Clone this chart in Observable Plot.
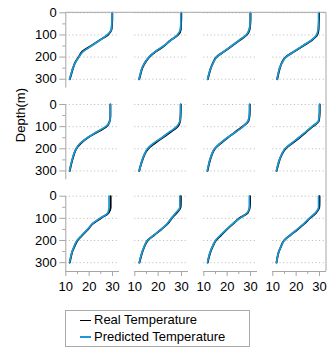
<!DOCTYPE html>
<html>
<head>
<meta charset="utf-8">
<script src="https://cdn.jsdelivr.net/npm/d3@7"></script>
<script src="https://cdn.jsdelivr.net/npm/@observablehq/plot@0.6"></script>
<style>
  html, body { margin: 0; padding: 0; background: #fff; }
  body { width: 328px; height: 347px; overflow: hidden; font-family: "Liberation Sans", Arial, Helvetica, sans-serif; }
  #chart svg { display: block; }
  .legend { margin-left: 65px; margin-top: 10px; width: 183px; height: 34px; border: 1px solid #aaa; padding-top: 1px; box-sizing: content-box; font-size: 13px; color: #000; }
  .legend .row { height: 16.7px; line-height: 16.7px; white-space: nowrap; }
  .legend .sw { display: inline-block; width: 11px; height: 1.6px; margin-left: 14px; margin-right: 3px; vertical-align: middle; }
</style>
</head>
<body>
<div id="chart"></div>
<div class="legend">
  <div class="row"><span class="sw" id="sw0"></span><span id="lg0"></span></div>
  <div class="row"><span class="sw" id="sw1"></span><span id="lg1"></span></div>
</div>
<script>
// ---- data ----
const depths = [0, 25, 50, 75, 100, 125, 150, 175, 200, 225, 250, 275, 300];
const rowKeys = ["r1", "r2", "r3"];
const colKeys = ["c1", "c2", "c3", "c4"];
const seriesNames = ["Real Temperature", "Predicted Temperature"];
const xTicks = [10, 20, 30];
const xMinorTicks = [15, 25];
const yTicks = [0, 100, 200, 300];
const yMinorTicks = [50, 150, 250];
const yLabel = "Depth(m)";

const realR1C1 = [29.9,29.9,29.8,29.6,28.0,24.3,20.7,17.1,15.5,14.0,13.1,12.4,11.7];
const predR1C1 = [29.8,29.8,29.7,29.5,27.7,24.4,20.9,17.4,15.6,14.1,13.0,12.3,11.6];
const realR1C2 = [29.9,29.9,29.8,29.7,28.5,25.2,22.5,19.0,16.2,14.4,13.2,12.5,11.9];
const predR1C2 = [29.7,29.7,29.7,29.5,28.2,25.3,22.3,18.8,16.0,14.3,13.1,12.4,11.8];
const realR1C3 = [30.0,30.0,29.9,29.6,28.4,25.2,22.0,18.7,15.4,14.0,13.0,12.3,11.7];
const predR1C3 = [29.8,29.8,29.8,29.4,28.2,25.0,21.8,18.6,15.5,14.1,13.0,12.2,11.6];
const realR1C4 = [29.8,29.8,29.7,29.6,29.0,26.6,22.9,19.2,15.5,13.9,13.0,12.4,11.9];
const predR1C4 = [29.6,29.6,29.6,29.4,28.7,26.3,22.6,19.0,15.6,14.0,12.9,12.3,11.8];

const realR2C1 = [29.1,29.1,29.1,28.8,27.4,23.4,19.4,16.4,14.5,13.5,12.8,12.2,11.7];
const predR2C1 = [29.0,29.0,29.0,28.9,27.0,23.0,19.2,16.2,14.4,13.4,12.7,12.1,11.6];
const realR2C2 = [29.7,29.7,29.6,29.4,28.3,25.2,21.9,18.6,15.7,14.2,13.3,12.5,11.9];
const predR2C2 = [29.6,29.6,29.6,29.3,27.9,24.7,21.5,18.0,15.4,14.1,13.2,12.5,11.9];
const realR2C3 = [29.7,29.7,29.6,29.1,26.5,23.4,20.2,17.3,14.7,13.5,12.7,12.1,11.6];
const predR2C3 = [29.6,29.6,29.5,28.9,26.8,23.6,20.0,17.0,14.6,13.4,12.6,12.0,11.5];
const realR2C4 = [30.1,30.1,30.0,29.7,27.0,24.2,21.4,18.3,15.4,13.9,12.9,12.2,11.6];
const predR2C4 = [30.0,30.0,29.9,29.5,26.7,24.0,21.0,18.0,15.2,13.8,12.8,12.1,11.6];

const realR3C1 = [29.2,29.2,29.2,28.3,24.9,21.5,19.5,17.2,15.0,13.8,12.8,12.2,11.7];
const predR3C1 = [28.5,28.5,28.5,28.0,24.6,21.3,19.3,17.0,14.8,13.6,12.7,12.1,11.6];
const realR3C2 = [29.7,29.7,29.6,27.9,25.8,24.0,21.3,18.4,15.5,14.2,13.3,12.6,12.0];
const predR3C2 = [29.3,29.3,29.3,27.6,25.6,23.8,21.2,18.3,15.4,14.1,13.2,12.5,11.9];
const realR3C3 = [29.8,29.8,29.7,28.8,25.2,22.5,19.9,17.5,15.2,13.9,12.9,12.2,11.7];
const predR3C3 = [29.5,29.5,29.5,28.6,25.4,22.3,19.7,17.2,15.0,13.8,12.8,12.1,11.6];
const realR3C4 = [30.0,30.0,29.9,28.5,25.8,23.4,20.6,17.6,14.8,13.6,12.6,12.0,11.6];
const predR3C4 = [29.6,29.6,29.6,28.3,25.6,23.2,20.4,17.5,14.9,13.6,12.6,12.0,11.6];

const realByPanel = [
  [realR1C1, realR1C2, realR1C3, realR1C4],
  [realR2C1, realR2C2, realR2C3, realR2C4],
  [realR3C1, realR3C2, realR3C3, realR3C4]
];
const predByPanel = [
  [predR1C1, predR1C2, predR1C3, predR1C4],
  [predR2C1, predR2C2, predR2C3, predR2C4],
  [predR3C1, predR3C2, predR3C3, predR3C4]
];

// ---- style / layout ----
const colors = ["#000000", "#1b98d5"];
const axisGray = "#a6a6a6";
const W = 328, H = 300;
const mL = 65.3, mR = 2, mT = 12.3, mB = 29;

function toRows(byPanel) {
  const out = [];
  byPanel.forEach((row, ri) => row.forEach((vals, ci) => vals.forEach((t, i) => {
    out.push({row: rowKeys[ri], col: colKeys[ci], depth: depths[i], temp: t, key: rowKeys[ri] + colKeys[ci]});
  })));
  return out;
}
const realRows = toRows(realByPanel);
const predRows = toRows(predByPanel);

const chart = Plot.plot({
  width: W, height: H,
  marginLeft: mL, marginRight: mR, marginTop: mT, marginBottom: mB,
  style: {fontFamily: "'Liberation Sans', Arial, Helvetica, sans-serif", fontSize: "13px", background: "#fff", color: "#000"},
  fx: {domain: colKeys, paddingInner: 0.2217, paddingOuter: 0, round: false, axis: null},
  fy: {domain: rowKeys, paddingInner: 0.179, paddingOuter: 0, round: false, axis: null},
  x: {domain: [10, 33], label: null},
  y: {domain: [0, 340], reverse: true, label: null},
  marks: [
    Plot.ruleY(yTicks, {stroke: "#b8b8b8", strokeWidth: 1, strokeDasharray: "1,2.6"}),
    Plot.ruleX(rowKeys, {fx: () => "c1", fy: d => d, x: () => 10, y1: () => 0, y2: () => 340, stroke: axisGray}),
    Plot.ruleY(colKeys, {fx: d => d, fy: () => "r3", y: () => 340, x1: () => 10, x2: () => 33, stroke: axisGray}),
    Plot.axisY({ticks: yTicks, tickSize: 6, tickPadding: 3, stroke: axisGray, label: null, anchor: "left"}),
    Plot.axisY({ticks: yMinorTicks, tickSize: 3, tickFormat: () => "", stroke: axisGray, label: null, anchor: "left"}),
    Plot.axisX({ticks: xTicks, tickSize: 5, tickPadding: 5, stroke: axisGray, label: null, anchor: "bottom"}),
    Plot.axisX({ticks: xMinorTicks, tickSize: 3, tickFormat: () => "", stroke: axisGray, label: null, anchor: "bottom"}),
    Plot.text([yLabel], {fx: () => "c1", fy: () => "r2", text: d => d, frameAnchor: "left", rotate: -90, dx: -44.5, fontSize: 13, fill: "#000"}),
    Plot.line(realRows, {x: "temp", y: "depth", fx: "col", fy: "row", z: "key", stroke: colors[0], strokeWidth: 1.9, curve: "monotone-y"}),
    Plot.line(predRows, {x: "temp", y: "depth", fx: "col", fy: "row", z: "key", stroke: colors[1], strokeWidth: 1.7, curve: "monotone-y"})
  ]
});

// figure frame (top and right edges)
d3.select(chart).append("path")
  .attr("d", `M${mL},${mT}H${W - mR}V${H - mB}`)
  .attr("fill", "none")
  .attr("stroke", axisGray)
  .attr("stroke-width", 1);

document.getElementById("chart").appendChild(chart);

// legend
seriesNames.forEach((name, i) => {
  document.getElementById("sw" + i).style.background = colors[i];
  document.getElementById("lg" + i).textContent = name;
});
</script>
</body>
</html>
